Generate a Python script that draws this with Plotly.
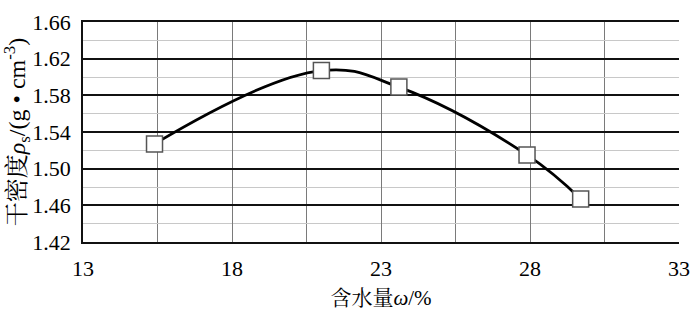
import plotly.graph_objects as go

water_content = [15.4, 21.0, 23.6, 27.9, 29.7]
dry_density = [1.527, 1.607, 1.589, 1.515, 1.467]

x_ticks = [13, 18, 23, 28, 33]
y_ticks = [1.42, 1.46, 1.50, 1.54, 1.58, 1.62, 1.66]

FONT = '"Liberation Serif", "Times New Roman", "Noto Serif CJK SC", "Noto Sans CJK SC", serif'

fig = go.Figure()
fig.add_trace(go.Scatter(
    x=water_content, y=dry_density,
    mode="lines+markers",
    line=dict(color="black", width=2.8, shape="spline", smoothing=1.15),
    marker=dict(symbol="square", size=16, color="white",
                line=dict(color="#555555", width=1.5)),
    showlegend=False,
))

fig.update_layout(
    width=700, height=318,
    margin=dict(l=83, r=12, t=10, b=76),
    plot_bgcolor="white", paper_bgcolor="white",
    font=dict(family=FONT, size=22, color="black"),
    xaxis=dict(
        range=[13, 33], tickvals=x_ticks, ticktext=[str(v) for v in x_ticks],
        showgrid=True, gridcolor="#7a7a7a", gridwidth=1,
        minor=dict(dtick=2.5, tick0=13, showgrid=True, gridcolor="#7a7a7a", gridwidth=1),
        showline=True, mirror=True, linecolor="#111111", linewidth=1.6,
        ticks="", ticklabelstandoff=6, ticklabeloverflow="allow",
        zeroline=False,
        tickfont=dict(family=FONT, size=22, color="black"),
        title=dict(text="含水量<i>ω</i>/%", font=dict(family=FONT, size=21, color="black"), standoff=10),
    ),
    yaxis=dict(
        range=[1.42, 1.66], tickvals=y_ticks, ticktext=[f"{v:.2f}" for v in y_ticks],
        showgrid=True, gridcolor="#111111", gridwidth=1.6,
        minor=dict(dtick=0.02, tick0=1.42, showgrid=True, gridcolor="#c8c8c8", gridwidth=1.2),
        showline=True, linecolor="#111111", linewidth=1.6,
        ticks="", ticklabelstandoff=6, ticklabeloverflow="allow",
        zeroline=False,
        tickfont=dict(family=FONT, size=22, color="black"),
        title=dict(text="干密度<i>ρ</i><sub>s</sub>/(g • cm<sup>-3</sup>)",
                   font=dict(family=FONT, size=24, color="black"), standoff=1),
    ),
)

fig.write_html("out.html")
